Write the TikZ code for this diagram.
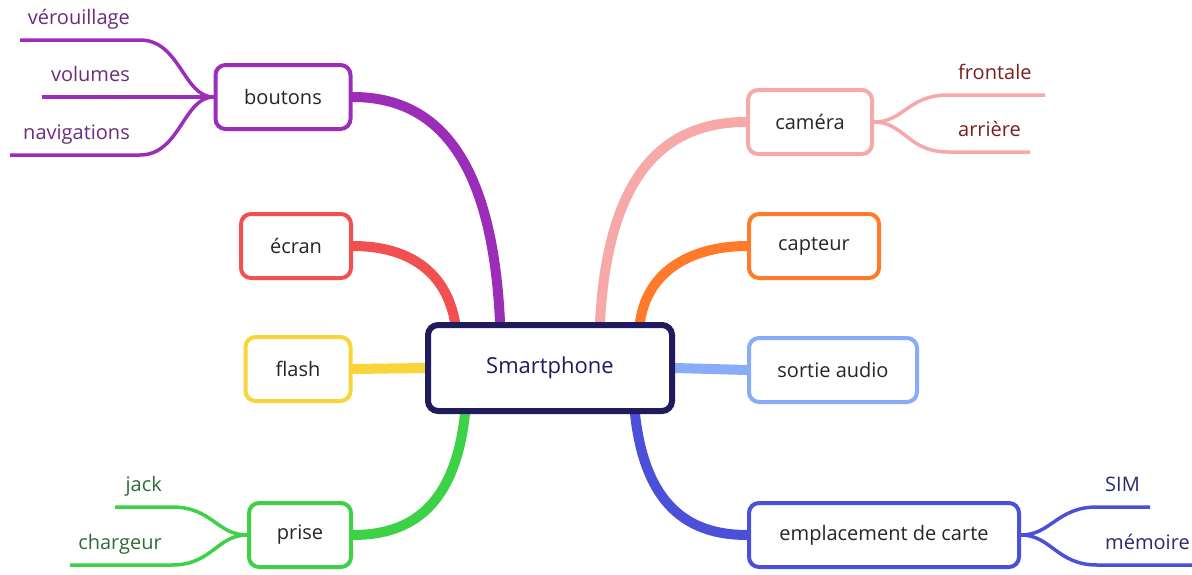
\documentclass[tikz,border=0pt]{standalone}
\usepackage{fontspec}
\setmainfont{Open Sans}
\usepackage{tikz}
\usetikzlibrary{backgrounds}

\definecolor{navy}{HTML}{1F1B5C}
\definecolor{mpurple}{HTML}{9C2DB8}
\definecolor{mpurpletxt}{HTML}{6B2C7A}
\definecolor{mred}{HTML}{F25050}
\definecolor{myellow}{HTML}{F9D53A}
\definecolor{mgreen}{HTML}{3DD147}
\definecolor{mgreentxt}{HTML}{2F6B35}
\definecolor{mpink}{HTML}{F7A9A9}
\definecolor{mpinktxt}{HTML}{7A1E1E}
\definecolor{morange}{HTML}{FF7B29}
\definecolor{mlblue}{HTML}{88ACF7}
\definecolor{mblue}{HTML}{4B50D8}
\definecolor{mbluetxt}{HTML}{2A2A6A}

\tikzset{
  box/.style={draw,line width=4pt,rounded corners=10pt,fill=white,
    minimum height=64pt,inner xsep=12pt,text=black!85,
    font=\fontsize{20}{24}\selectfont},
  leaf/.style={inner sep=0pt,font=\fontsize{20}{24}\selectfont},
  branch/.style={line width=10pt,line cap=round},
  twig/.style={line width=3.5pt}
}

\begin{document}
\begin{tikzpicture}[x=1pt,y=-1pt]
    \useasboundingbox (0,0) rectangle (1192,574);

    % Centre node
    \node[box,draw=navy,line width=6pt,minimum width=244pt,minimum height=86pt,
      text=navy,font=\fontsize{22}{26}\selectfont] (smart) at (550,368) {Smartphone};

    % Left side
    \node[box,draw=mpurple,minimum width=135pt] (boutons) at (283,97) {boutons};
    \node[box,draw=mred,minimum width=110pt] (ecran) at (296,246) {écran};
    \node[box,draw=myellow,minimum width=105pt] (flash) at (298,369) {flash};
    \node[box,draw=mgreen,minimum width=102pt] (prise) at (300,535) {prise};

    % Right side
    \node[box,draw=mpink,minimum width=124pt] (camera) at (810,122) {caméra};
    \node[box,draw=morange,minimum width=130pt] (capteur) at (814,246) {capteur};
    \node[box,draw=mlblue,minimum width=168pt] (audio) at (833,370) {sortie audio};
    \node[box,draw=mblue,minimum width=270pt] (carte) at (884,535) {emplacement de carte};

    % Main branches, behind the boxes
    \begin{scope}[on background layer]
      \draw[branch,mpurple] ([xshift=-50pt]smart.north) .. controls +(-8,-170) and +(80,0) .. (boutons.east);
      \draw[branch,mred] ([xshift=-95pt]smart.north) .. controls +(-10,-55) and +(50,0) .. (ecran.east);
      \draw[branch,myellow] (smart.west) -- (flash.east);
      \draw[branch,mgreen] ([xshift=-85pt]smart.south) .. controls +(-10,90) and +(60,0) .. (prise.east);
      \draw[branch,mpink] ([xshift=50pt]smart.north) .. controls +(8,-150) and +(-80,0) .. (camera.west);
      \draw[branch,morange] ([xshift=90pt]smart.north) .. controls +(8,-55) and +(-50,0) .. (capteur.west);
      \draw[branch,mlblue] (smart.east) -- (audio.west);
      \draw[branch,mblue] ([xshift=85pt]smart.south) .. controls +(10,90) and +(-60,0) .. (carte.west);
    \end{scope}

    % Leaves of boutons
    \foreach \n/\y/\xe/\txt in {ver/40/20/vérouillage,vol/97/42/volumes,nav/155/10/navigations} {
      \coordinate (\n A) at (140,\y);
      \coordinate (\n B) at (\xe,\y);
      \node[leaf,text=mpurpletxt,anchor=base east] (\n) at (130,\y-16) {\txt};
      \draw[twig,mpurple] (boutons.west) .. controls +(-30,0) and +(40,0) .. (\n A) -- (\n B);
    }

    % Leaves of prise
    \foreach \n/\y/\xe/\txt in {jack/507/115/jack,charg/565/70/chargeur} {
      \coordinate (\n A) at (172,\y);
      \coordinate (\n B) at (\xe,\y);
      \node[leaf,text=mgreentxt,anchor=base east] (\n) at (162,\y-16) {\txt};
      \draw[twig,mgreen] (prise.west) .. controls +(-30,0) and +(40,0) .. (\n A) -- (\n B);
    }

    % Leaves of camera
    \foreach \n/\y/\xe/\txt in {front/95/1045/frontale,arr/152/1030/arrière} {
      \coordinate (\n A) at (948,\y);
      \coordinate (\n B) at (\xe,\y);
      \node[leaf,text=mpinktxt,anchor=base west] (\n) at (958,\y-16) {\txt};
      \draw[twig,mpink] (camera.east) .. controls +(30,0) and +(-40,0) .. (\n A) -- (\n B);
    }

    % Leaves of carte
    \foreach \n/\y/\xe/\txt in {sim/507/1150/SIM,mem/565/1192/mémoire} {
      \coordinate (\n A) at (1097,\y);
      \coordinate (\n B) at (\xe,\y);
      \node[leaf,text=mbluetxt,anchor=base west] (\n) at (1105,\y-16) {\txt};
      \draw[twig,mblue] (carte.east) .. controls +(30,0) and +(-40,0) .. (\n A) -- (\n B);
    }
\end{tikzpicture}
\end{document}
